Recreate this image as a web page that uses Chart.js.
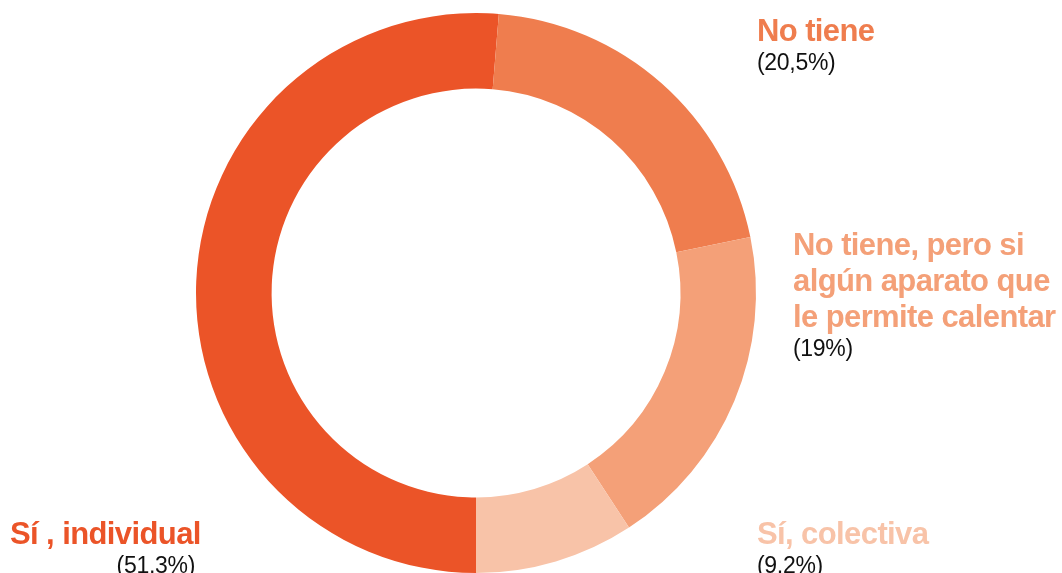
<!DOCTYPE html>
<html>
<head>
<meta charset="utf-8">
<script src="https://cdn.jsdelivr.net/npm/chart.js@4"></script>
<style>
  html, body { margin: 0; padding: 0; background: #fff; }
  #grafico { display: block; }
</style>
</head>
<body>
<canvas id="grafico" width="1062" height="573"></canvas>
<script>
// datos
const categorias = ["Sí , individual", "No tiene", "No tiene, pero si algún aparato que le permite calentar", "Sí, colectiva"];
const valores = [51.3, 20.5, 19, 9.2];
const etiquetasPct = ["(51,3%)", "(20,5%)", "(19%)", "(9,2%)"];
const colores = ["#eb5428", "#ef7d4e", "#f4a078", "#f8c3a8"];

// posiciones de las etiquetas (líneas del texto en negrita)
const etiquetas = [
  { x: 10, y: 544, lineas: ["Sí , individual"], pctX: 195, pctAlign: "right" },
  { x: 757, y: 41, lineas: ["No tiene"], pctX: 757, pctAlign: "left" },
  { x: 793, y: 255, lineas: ["No tiene, pero si", "algún aparato que", "le permite calentar"], pctX: 793, pctAlign: "left" },
  { x: 757, y: 544, lineas: ["Sí, colectiva"], pctX: 757, pctAlign: "left" }
];

const pluginEtiquetas = {
  id: "etiquetas",
  afterDraw(chart) {
    const c = chart.ctx;
    c.save();
    etiquetas.forEach((e, i) => {
      c.fillStyle = colores[i];
      c.font = "bold 31px 'Liberation Sans', Arial, sans-serif";
      c.letterSpacing = "-0.6px";
      c.textAlign = "left";
      c.textBaseline = "alphabetic";
      let y = e.y;
      e.lineas.forEach((l, j) => {
        c.fillText(l, e.x, y);
        if (j < e.lineas.length - 1) y += 36;
      });
      c.fillStyle = "#111";
      c.font = "23px 'Liberation Sans', Arial, sans-serif";
      c.letterSpacing = "-0.3px";
      c.textAlign = e.pctAlign;
      c.fillText(etiquetasPct[i], e.pctX, y + 29);
    });
    c.restore();
  }
};

new Chart(document.getElementById("grafico"), {
  type: "doughnut",
  data: {
    labels: categorias,
    datasets: [{
      data: valores,
      backgroundColor: colores,
      borderWidth: 0
    }]
  },
  options: {
    responsive: false,
    animation: false,
    rotation: 180,
    cutout: "73%",
    layout: { padding: { left: 196, right: 306, top: 13, bottom: 0 } },
    plugins: {
      legend: { display: false },
      tooltip: { enabled: false }
    }
  },
  plugins: [pluginEtiquetas]
});
</script>
</body>
</html>
